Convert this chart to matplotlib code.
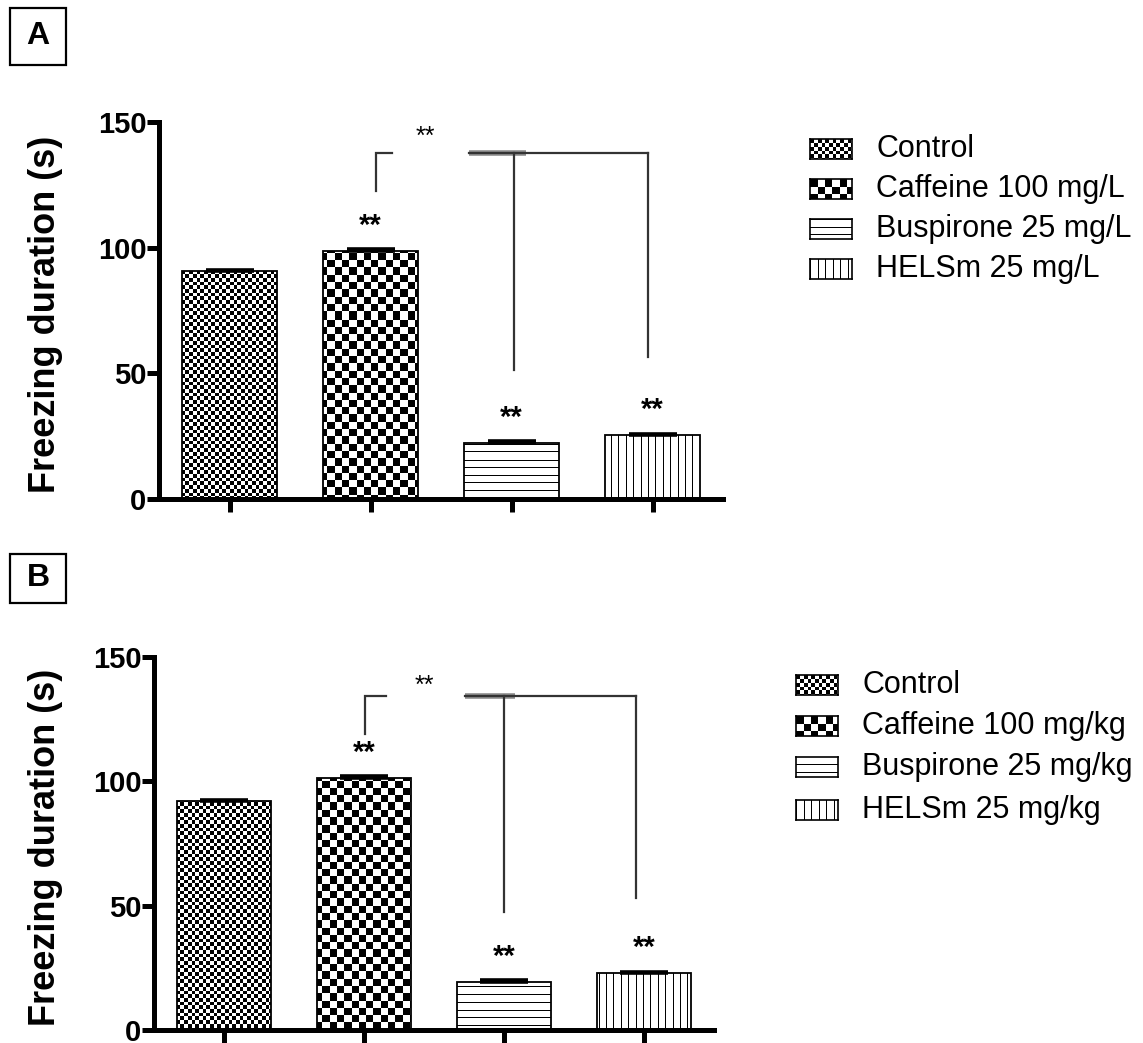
import numpy as np
import matplotlib
matplotlib.use('Agg')
import matplotlib.pyplot as plt
from matplotlib.patches import Rectangle

plt.rcParams['font.family'] = ['Liberation Sans', 'DejaVu Sans']

W_PX, H_PX = 1143, 1043

# group labels for the two experiments
labels_a = ['Control', 'Caffeine 100 mg/L', 'Buspirone 25 mg/L', 'HELSm 25 mg/L']
labels_b = ['Control', 'Caffeine 100 mg/kg', 'Buspirone 25 mg/kg', 'HELSm 25 mg/kg']

# freezing duration, mean and SEM (s)
means_a = [90.6, 98.8, 22.4, 25.4]
sem_a = [0.6, 0.6, 0.6, 0.6]
means_b = [91.9, 101.5, 19.4, 22.9]
sem_b = [0.5, 0.6, 0.6, 0.5]

# significance vs control
stars = ['', '**', '**', '**']

fills = ['fine', 'coarse', 'hlines', 'vlines']


def pattern(kind, h, w):
    """1 = white, 0 = black, one array cell per screen pixel"""
    i, j = np.mgrid[0:h, 0:w]
    if kind == 'fine':
        c = 3.7
        return ((i // c + j // c) % 2).astype(float)
    if kind == 'coarse':
        c = 7.3
        return ((i // c + j // c) % 2).astype(float)
    if kind == 'hlines':
        return np.where(np.mod(i, 7.5) < 1, 0.0, 1.0)
    return np.where(np.mod(j, 7.4) < 1, 0.0, 1.0)


def draw_panel(fig, box, means, sems, bracket):
    ax = fig.add_axes(box)
    x = np.arange(len(means))
    w_px = int(round(box[2] * W_PX))
    h_px = int(round(box[3] * H_PX))

    base = ax.bar(x, means, width=0.67, color='white', linewidth=0, zorder=2)
    for bar, kind in zip(base, fills):
        im = ax.imshow(pattern(kind, h_px, w_px), cmap='gray', vmin=0, vmax=1,
                       extent=(-0.5, 3.5, 0, 150), aspect='auto',
                       interpolation='nearest', zorder=2.5)
        im.set_clip_path(bar)
    ax.bar(x, means, width=0.67, fill=False, edgecolor='black', linewidth=1.3, zorder=3)
    ax.errorbar(x, means, yerr=[np.zeros(len(sems)), sems], fmt='none', ecolor='black',
                elinewidth=2, capsize=17, capthick=2.6, zorder=4)

    for xi, m, s in zip(x, means, stars):
        if s:
            ax.text(xi, m + 10, s, ha='center', va='center', fontsize=21, fontweight='bold')

    # comparison bracket
    xl, yl0, xl1, xr0, xm, xr, yb, ym_end, yr_end, xs, ys = bracket
    lc = '#333333'
    ax.plot([xl, xl, xl1], [yl0, yb, yb], color=lc, lw=1.6, solid_joinstyle='miter')
    ax.plot([xr0, xm + 0.08], [yb, yb], color='#8a8a8a', lw=4, solid_capstyle='butt')
    ax.plot([xr0, xr], [yb, yb], color=lc, lw=1.6)
    ax.plot([xm, xm], [yb, ym_end], color=lc, lw=1.6)
    ax.plot([xr, xr], [yb, yr_end], color=lc, lw=1.6)
    ax.text(xs, ys, '**', ha='center', va='center', fontsize=18)

    ax.set_xlim(-0.5, 3.5)
    ax.set_ylim(0, 150)
    ax.set_yticks([0, 50, 100, 150])
    ax.set_xticks(x)
    ax.set_xticklabels([])
    for side in ['top', 'right']:
        ax.spines[side].set_visible(False)
    for side in ['left', 'bottom']:
        ax.spines[side].set_linewidth(3.6)
    ax.tick_params(axis='y', direction='out', length=8.5, width=3.6, labelsize=21, pad=0.5)
    ax.tick_params(axis='x', direction='out', length=9, width=3.6)
    for lbl in ax.get_yticklabels():
        lbl.set_fontweight('bold')
    ax.set_ylabel('Freezing duration (s)', fontsize=26, fontweight='bold')
    ax.yaxis.set_label_coords((63 - box[0] * W_PX) / (box[2] * W_PX), 0.49)
    return ax


def draw_legend(fig, labels, x0, rows):
    for lab, kind, y in zip(labels, fills, rows):
        lax = fig.add_axes([x0 / W_PX, 1 - (y + 10) / H_PX, 42 / W_PX, 20 / H_PX])
        lax.imshow(pattern(kind, 20, 42), cmap='gray', vmin=0, vmax=1, aspect='auto',
                   interpolation='nearest')
        lax.set_xticks([])
        lax.set_yticks([])
        for sp in lax.spines.values():
            sp.set_linewidth(1.2)
        fig.text((x0 + 66) / W_PX, 1 - y / H_PX, lab, fontsize=22, va='center')


def panel_letter(fig, letter, x0, y0, w, h):
    fig.patches.append(Rectangle((x0 / W_PX, 1 - (y0 + h) / H_PX), w / W_PX, h / H_PX,
                                 transform=fig.transFigure, fill=False, lw=1.6, color='black'))
    fig.text((x0 + w / 2) / W_PX, 1 - (y0 + h / 2) / H_PX, letter, ha='center', va='center',
             fontsize=23, fontweight='bold')


fig = plt.figure(figsize=(W_PX / 100, H_PX / 100), dpi=100)

draw_panel(fig, [159 / W_PX, 1 - 499 / H_PX, 564 / W_PX, 377 / H_PX], means_a, sem_a,
           (1.04, 122.7, 1.15, 1.70, 2.02, 2.97, 137.7, 51.4, 56.6, 1.39, 144))
draw_panel(fig, [154 / W_PX, 1 - 1030 / H_PX, 560 / W_PX, 373 / H_PX], means_b, sem_b,
           (1.01, 119, 1.16, 1.72, 2.0, 2.94, 134.4, 47.3, 53, 1.43, 138.4))

draw_legend(fig, labels_a, 810, [149, 189, 229, 269])
draw_legend(fig, labels_b, 796, [685, 726, 767, 810])

panel_letter(fig, 'A', 10, 8, 56, 57)
panel_letter(fig, 'B', 10, 554, 56, 49)

fig.savefig('out.png', dpi=100)
